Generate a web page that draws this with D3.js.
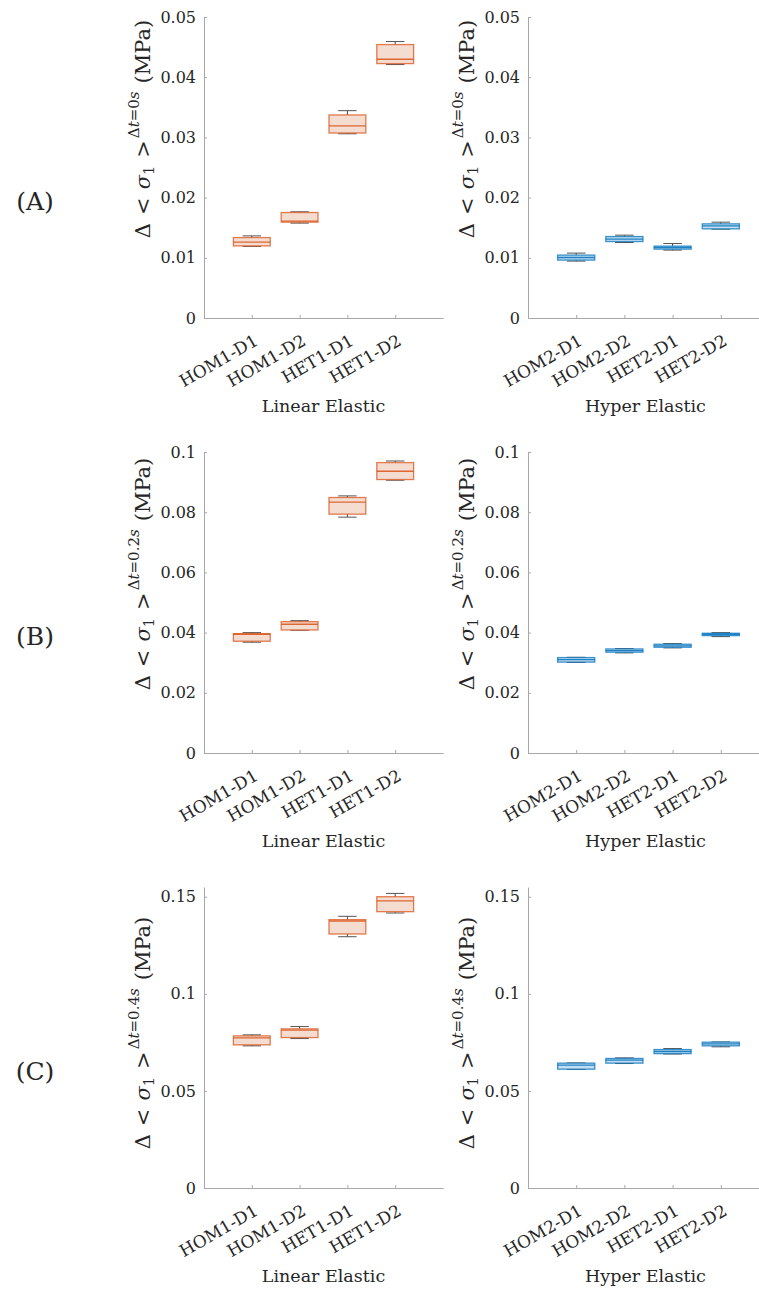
<!DOCTYPE html>
<html><head><meta charset="utf-8">
<script src="https://cdn.jsdelivr.net/npm/d3@7"></script>
<style>
body{margin:0;background:#fff;}
svg{display:block;}
text{font-family:"DejaVu Serif","Liberation Serif",serif;fill:#262626;}
</style></head>
<body><svg id="c" width="759" height="1290"></svg>
<script>
// ---------- data ----------
const categoriesLE = ["HOM1-D1","HOM1-D2","HET1-D1","HET1-D2"];
const categoriesHE = ["HOM2-D1","HOM2-D2","HET2-D1","HET2-D2"];
const rowLabels = ["(A)","(B)","(C)"];
const timeLabels = ["0s","0.2s","0.4s"];
const groupTitles = ["Linear Elastic","Hyper Elastic"];

const yMaxes = [0.05, 0.1, 0.155];
const yTicksA = [0,0.01,0.02,0.03,0.04,0.05];
const yTickLabelsA = ["0","0.01","0.02","0.03","0.04","0.05"];
const yTicksB = [0,0.02,0.04,0.06,0.08,0.1];
const yTickLabelsB = ["0","0.02","0.04","0.06","0.08","0.1"];
const yTicksC = [0,0.05,0.1,0.15];
const yTickLabelsC = ["0","0.05","0.1","0.15"];

// Row A (Δt = 0s)
const leA_min = [0.0119, 0.01576, 0.0306, 0.0421];
const leA_q1  = [0.01198,0.01592, 0.03073,0.04226];
const leA_med = [0.01259,0.01609, 0.0319, 0.04298];
const leA_q3  = [0.01336,0.01752, 0.03373,0.04542];
const leA_max = [0.01364,0.01764, 0.03444,0.04592];
const heA_min = [0.00945,0.01254, 0.01128,0.01476];
const heA_q1  = [0.00962,0.0127,  0.01144,0.01481];
const heA_med = [0.01005,0.0131,  0.01171,0.01531];
const heA_q3  = [0.01045,0.01353, 0.01194,0.01564];
const heA_max = [0.01078,0.01376, 0.01237,0.01592];
// Row B (Δt = 0.2s)
const leB_min = [0.0368, 0.0408,  0.07835,0.09062];
const leB_q1  = [0.03713,0.04088, 0.07935,0.09085];
const leB_med = [0.03945,0.04277, 0.08333,0.0936];
const leB_q3  = [0.03966,0.04364, 0.08488,0.09648];
const leB_max = [0.03999,0.04397, 0.08542,0.09702];
const heB_min = [0.0301, 0.03326, 0.03492,0.03866];
const heB_q1  = [0.0302, 0.03349, 0.03514,0.039];
const heB_med = [0.0310, 0.034,   0.03558,0.03945];
const heB_q3  = [0.0317, 0.03457, 0.03613,0.03978];
const heB_max = [0.0318, 0.03468, 0.03634,0.03999];
// Row C (Δt = 0.4s)
const leC_min = [0.0732, 0.07696, 0.1294, 0.1416];
const leC_q1  = [0.07371,0.07747, 0.1308, 0.1423];
const leC_med = [0.0773, 0.08127, 0.1375, 0.1479];
const leC_q3  = [0.07834,0.08195, 0.1382, 0.15];
const leC_max = [0.07886,0.08313, 0.1399, 0.1517];
const heC_min = [0.0611, 0.0641,  0.0690, 0.0727];
const heC_q1  = [0.0612, 0.0643,  0.0692, 0.0732];
const heC_med = [0.0633, 0.0658,  0.0703, 0.0742];
const heC_q3  = [0.0643, 0.0667,  0.0713, 0.0751];
const heC_max = [0.0644, 0.0670,  0.0718, 0.0752];

// ---------- build ----------
function stats(mn,q1,md,q3,mx){return mn.map((d,i)=>({min:mn[i],q1:q1[i],med:md[i],q3:q3[i],max:mx[i],pos:i+1}));}
const rows = [
  {le:stats(leA_min,leA_q1,leA_med,leA_q3,leA_max), he:stats(heA_min,heA_q1,heA_med,heA_q3,heA_max), ticks:yTicksA, labels:yTickLabelsA},
  {le:stats(leB_min,leB_q1,leB_med,leB_q3,leB_max), he:stats(heB_min,heB_q1,heB_med,heB_q3,heB_max), ticks:yTicksB, labels:yTickLabelsB},
  {le:stats(leC_min,leC_q1,leC_med,leC_q3,leC_max), he:stats(heC_min,heC_q1,heC_med,heC_q3,heC_max), ticks:yTicksC, labels:yTickLabelsC}
];

const svg = d3.select("#c");
const rowTop = [17, 452, 887];
const plotH = 301;
const colX = [204, 528];
const plotW = [239, 241];
const colors = ["#D95319", "#0072BD"];
const fills = ["#F4DCD0", "#C4DDF0"];
const yLabelCenter = [129, 574, 1033];
const axisColor = "#a8a8a8";

rows.forEach((row, r) => {
  [0,1].forEach(c => {
    const data = c===0 ? row.le : row.he;
    const cats = c===0 ? categoriesLE : categoriesHE;
    const x0 = colX[c], y0 = rowTop[r];
    const g = svg.append("g").attr("transform",`translate(${x0},${y0})`);
    const x = d3.scaleLinear().domain([0,5]).range([0,plotW[c]]);
    const y = d3.scaleLinear().domain([0,yMaxes[r]]).range([plotH,0]);

    // y axis
    const ya = g.append("g").call(d3.axisLeft(y).tickValues(row.ticks)
        .tickFormat((d,i)=>row.labels[i]).tickSizeInner(-3).tickSizeOuter(0).tickPadding(8));
    ya.select(".domain").attr("stroke",axisColor);
    ya.selectAll(".tick line").attr("stroke",axisColor);
    ya.selectAll(".tick text").attr("font-size",16).attr("font-family","DejaVu Serif").attr("fill","#262626");

    // x axis
    const xa = g.append("g").attr("transform",`translate(0,${plotH})`)
      .call(d3.axisBottom(x).tickValues([1,2,3,4]).tickFormat((d,i)=>cats[i]).tickSizeInner(-3).tickSizeOuter(0));
    xa.select(".domain").attr("stroke",axisColor);
    xa.selectAll(".tick line").attr("stroke",axisColor);
    xa.selectAll(".tick text").attr("font-size",17).attr("font-family","DejaVu Serif").attr("fill","#262626")
      .attr("text-anchor","end").attr("dy",0).attr("y",0)
      .attr("transform","translate(7,26) rotate(-30)");

    // boxes
    const bw = x(0.77) - x(0);
    const cw = bw/2;
    const bx = g.append("g");
    const items = bx.selectAll("g.box").data(data).join("g").attr("class","box");
    items.append("line").attr("x1",d=>x(d.pos)).attr("x2",d=>x(d.pos))
      .attr("y1",d=>y(d.max)).attr("y2",d=>y(d.q3)).attr("stroke","#444").attr("stroke-width",1);
    items.append("line").attr("x1",d=>x(d.pos)).attr("x2",d=>x(d.pos))
      .attr("y1",d=>y(d.q1)).attr("y2",d=>y(d.min)).attr("stroke","#444").attr("stroke-width",1);
    items.append("line").attr("x1",d=>x(d.pos)-cw/2).attr("x2",d=>x(d.pos)+cw/2)
      .attr("y1",d=>y(d.max)).attr("y2",d=>y(d.max)).attr("stroke","#555").attr("stroke-width",1);
    items.append("line").attr("x1",d=>x(d.pos)-cw/2).attr("x2",d=>x(d.pos)+cw/2)
      .attr("y1",d=>y(d.min)).attr("y2",d=>y(d.min)).attr("stroke","#555").attr("stroke-width",1);
    items.append("rect").attr("x",d=>x(d.pos)-bw/2).attr("width",bw)
      .attr("y",d=>y(d.q3)).attr("height",d=>Math.max(1,y(d.q1)-y(d.q3)))
      .attr("fill",fills[c]).attr("stroke",colors[c]).attr("stroke-opacity",0.75).attr("stroke-width",1.3);
    items.append("line").attr("x1",d=>x(d.pos)-bw/2).attr("x2",d=>x(d.pos)+bw/2)
      .attr("y1",d=>y(d.med)).attr("y2",d=>y(d.med)).attr("stroke",colors[c]).attr("stroke-opacity",0.85).attr("stroke-width",1.3);

    // group title
    g.append("text").attr("x",(x(0)+x(5))/2 - (c===1?3:0)).attr("y",plotH+93.5)
      .attr("text-anchor","middle").attr("font-size",17.5).text(groupTitles[c]);

    // y label
    const lx = c===0 ? 150 - x0 : 474 - x0;
    const ly = yLabelCenter[r] - y0;
    const t = g.append("text").attr("transform",`translate(${lx},${ly}) rotate(-90)`)
      .attr("text-anchor","middle").attr("font-size",21);
    t.append("tspan").text("Δ");
    t.append("tspan").attr("dx",8).text("<");
    t.append("tspan").attr("dx",8).attr("font-style","italic").text("σ");
    t.append("tspan").attr("font-size",14.5).attr("dy",4).text("1");
    t.append("tspan").attr("dx",8).attr("dy",-4).text(">");
    t.append("tspan").attr("font-size",15).attr("dx",2).attr("dy",-11).text("Δ");
    t.append("tspan").attr("font-size",15).attr("font-style","italic").text("t");
    t.append("tspan").attr("font-size",15).text("=" + timeLabels[r].replace("s",""));
    t.append("tspan").attr("font-size",15).attr("font-style","italic").text("s");
    t.append("tspan").attr("dx",8).attr("dy",11).text("(MPa)");
  });
  svg.append("text").attr("x",35).attr("y",rowTop[r]+plotH/2+42).attr("text-anchor","middle")
    .attr("font-size",25).text(rowLabels[r]);
});
</script></body></html>
